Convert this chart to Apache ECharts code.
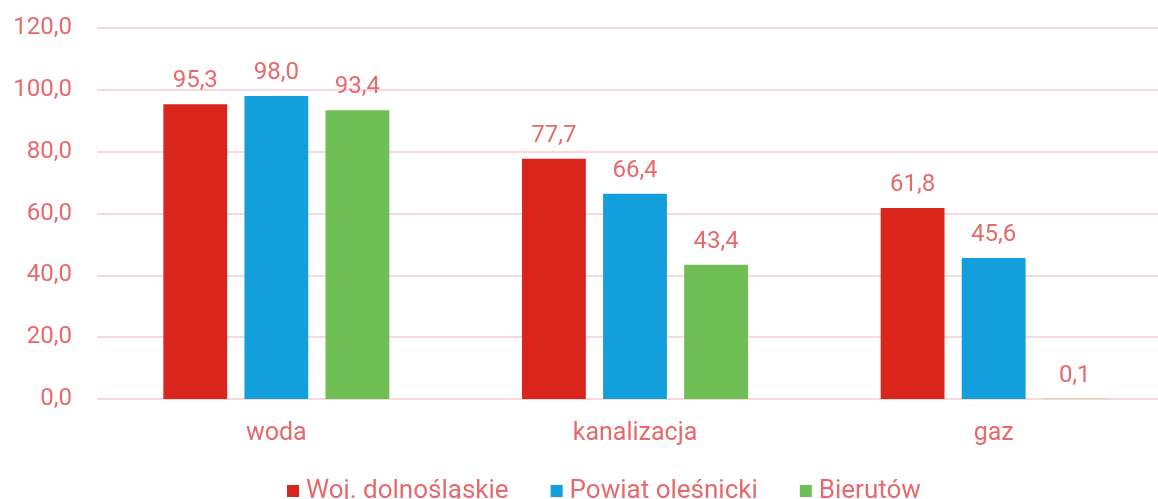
<!DOCTYPE html>
<html lang="pl">
<head>
    <meta charset="utf-8">
    <title>Wskaźnik dostępu do sieci</title>
    <script type="text/javascript" src="https://cdn.jsdelivr.net/npm/echarts@6/dist/echarts.min.js"></script>
    <style>
        html, body, #chart {
            width: 100%; height: 100%; margin: 0; padding: 0; overflow: hidden; background-color: #ffffff;
        }
    </style>
</head>
<body>
<div id="chart"></div>
<script type="text/javascript">
    // dane
    var categories = ['woda', 'kanalizacja', 'gaz'];
    var seriesNames = ['Woj. dolnośląskie', 'Powiat oleśnicki', 'Bierutów'];
    var wojValues = [95.3, 77.7, 61.8];
    var powiatValues = [98.0, 66.4, 45.6];
    var bierutowValues = [93.4, 43.4, 0.1];
    var yTicks = [0, 20, 40, 60, 80, 100, 120];

    var colors = ['#DA251D', '#139FDB', '#70BF56'];
    var textColor = '#E8696C';
    var fontFamily = 'Roboto, "Noto Sans", sans-serif';

    //liczby z przecinkiem
    function fmt(v) {
        return Number(v).toFixed(1).replace('.', ',');
    }

    function makeSeries(name, data, color) {
        return {
            name: name,
            type: 'bar',
            data: data,
            barGap: '27%',
            barCategoryGap: '37%',
            itemStyle: { color: color },
            label: {
                show: true,
                position: 'top',
                distance: 11,
                color: textColor,
                fontSize: 24,
                fontFamily: fontFamily,
                formatter: function (p) { return fmt(p.value); }
            }
        };
    }

    var myChart = echarts.init(document.getElementById('chart'));
    var option = {
        animation: false,
        color: colors,
        // wykres szerszy niz okno, jak w oryginale
        grid: { left: 97, width: 1076, top: 28, bottom: 100, containLabel: false, outerBoundsMode: 'none' },
        legend: {
            top: 473,
            left: 282,
            itemWidth: 12,
            itemHeight: 12,
            itemGap: 42,
            icon: 'rect',
            textStyle: { color: textColor, fontSize: 26, fontFamily: fontFamily, padding: [0, 0, 0, 2] },
            data: seriesNames
        },
        xAxis: {
            type: 'category',
            data: categories,
            axisLine: { show: false },
            axisTick: { show: false },
            axisLabel: { color: textColor, fontSize: 25, fontFamily: fontFamily, margin: 22 }
        },
        yAxis: {
            type: 'value',
            min: yTicks[0],
            max: yTicks[yTicks.length - 1],
            interval: 20,
            axisLine: { show: false },
            axisTick: { show: false },
            splitLine: { lineStyle: { color: '#F8D9DA', width: 2 } },
            axisLabel: {
                color: textColor, fontSize: 24, fontFamily: fontFamily, margin: 25,
                formatter: function (v) { return fmt(v); }
            }
        },
        series: [
            makeSeries(seriesNames[0], wojValues, colors[0]),
            makeSeries(seriesNames[1], powiatValues, colors[1]),
            makeSeries(seriesNames[2], bierutowValues, colors[2])
        ]
    };
    myChart.setOption(option);
</script>
</body>
</html>
